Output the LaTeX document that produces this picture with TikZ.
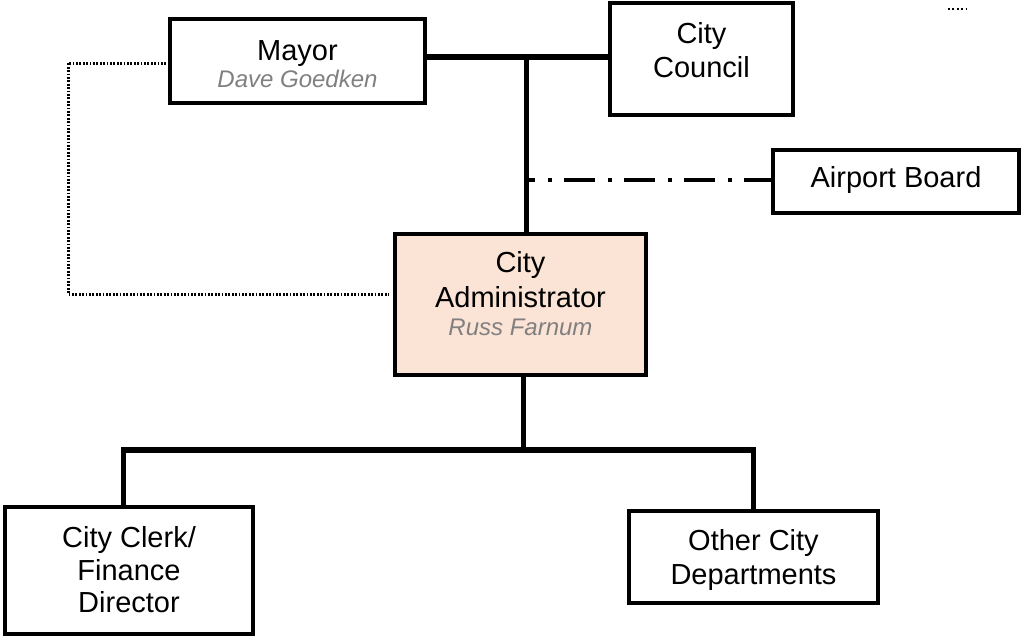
\documentclass[tikz,border=0pt]{standalone}
\usepackage{fontspec}
\setmainfont{Liberation Sans}
\usetikzlibrary{calc}
\definecolor{adminfill}{RGB}{251,227,214}
\definecolor{namegray}{RGB}{128,128,128}
\begin{document}
\begin{tikzpicture}[x=1pt,y=-1pt,
  box/.style={draw=black, line width=3.6pt, rectangle, inner sep=0pt, line join=miter},
  lbl/.style={anchor=base, inner sep=0pt, font=\fontsize{29}{35}\selectfont},
  nm/.style={anchor=base, inner sep=0pt, text=namegray, font=\fontsize{24}{29}\selectfont\itshape},
  conn/.style={line width=5.8pt, line join=miter},
  dotline/.style={line width=3pt, dash pattern=on 1.8pt off 1.6pt},
  dashdotline/.style={line width=4pt, dash pattern=on 31pt off 13pt on 4pt off 12pt, dash phase=23pt},
  tinydots/.style={line width=1.8pt, dash pattern=on 1.8pt off 2.6pt}
]
\useasboundingbox (0,0) rectangle (1023,637);

% boxes
\node[box, minimum width=255pt, minimum height=84pt] (mayor) at (297.5,61) {};
\node[box, minimum width=183pt, minimum height=112pt] (council) at (701.5,59) {};
\node[box, minimum width=246pt, minimum height=63pt] (airport) at (896,181.5) {};
\node[box, fill=adminfill, minimum width=251pt, minimum height=141pt] (admin) at (520.5,304.5) {};
\node[box, minimum width=248pt, minimum height=127pt] (clerk) at (129,570.5) {};
\node[box, minimum width=249pt, minimum height=92pt] (other) at (753.5,557) {};

% texts
\node[lbl] (mayorT) at (297.5,60) {Mayor};
\node[nm] (mayorN) at (297.5,87) {Dave Goedken};
\node[lbl] (councilT1) at (701.5,43) {City};
\node[lbl] (councilT2) at (701.5,77) {Council};
\node[lbl] (airportT) at (896,187) {Airport Board};
\node[lbl] (adminT1) at (520.5,272) {City};
\node[lbl] (adminT2) at (520.5,307) {Administrator};
\node[nm] (adminN) at (520.5,335) {Russ Farnum};
\node[lbl] (clerkT1) at (129,547) {City Clerk/};
\node[lbl] (clerkT2) at (129,580) {Finance};
\node[lbl] (clerkT3) at (129,612) {Director};
\node[lbl] (otherT1) at (753.5,550) {Other City};
\node[lbl] (otherT2) at (753.5,584) {Departments};

% junctions
\coordinate (jt) at (526.5,57);
\coordinate (ja) at (526.5,180);
\coordinate (jb) at (523.5,450);
\coordinate (jl) at (123.5,450);
\coordinate (jr) at (753.5,450);
\coordinate (dl) at (68,63);
\coordinate (dd) at (68,294);

% connectors
\draw[conn] (mayor.east |- jt) -- (council.west |- jt);
\draw[conn] (jt) -- (admin.north -| jt);
\draw[dashdotline] (ja) -- (airport.west |- ja);
\draw[conn] (admin.south -| jb) -- (jb);
\draw[conn] (clerk.north -| jl) -- (jl) -- (jr) -- (other.north -| jr);
\draw[dotline] ($(mayor.west |- dl)+(-2,0)$) -- (dl) -- (dd) -- ($(admin.west |- dd)+(-4,0)$);

% small mark top right
\draw[tinydots] (948,9) -- (968,9);
\end{tikzpicture}
\end{document}
